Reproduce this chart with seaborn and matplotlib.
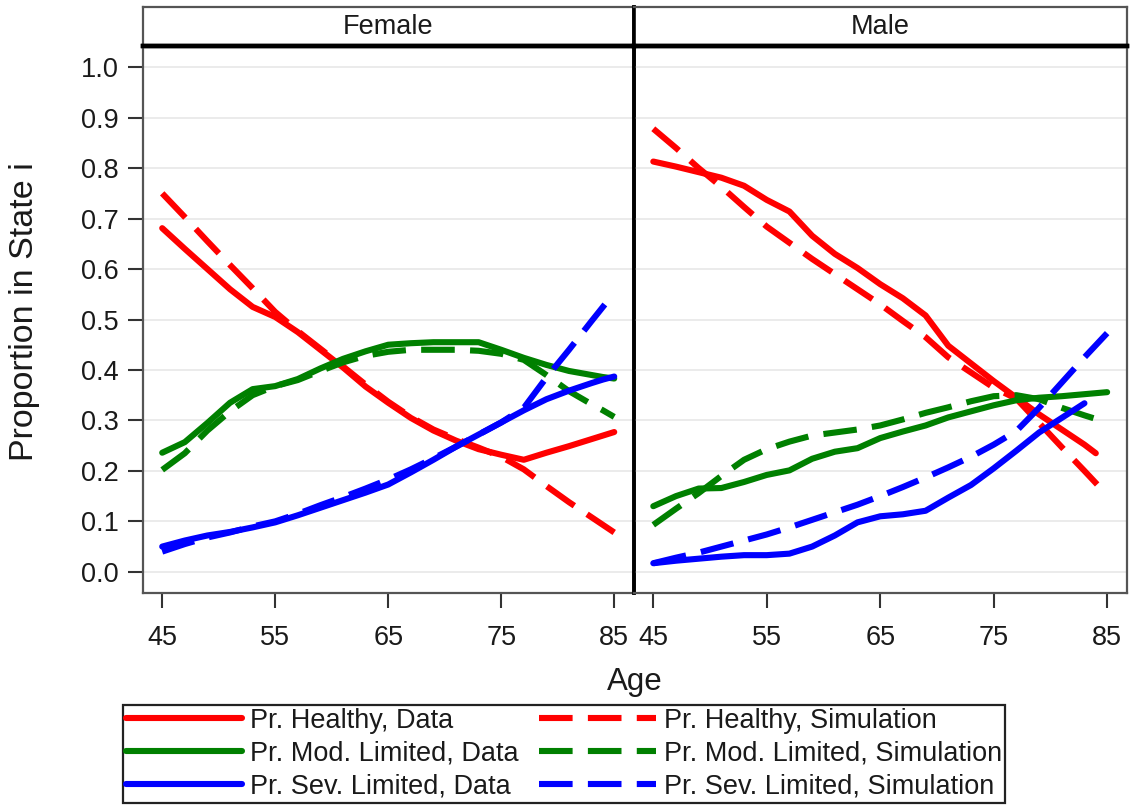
import numpy as np
import pandas as pd
import matplotlib
matplotlib.use("Agg")
import matplotlib.pyplot as plt
from matplotlib.lines import Line2D
import seaborn as sns

# ---- data -------------------------------------------------------------
AGES = [45, 47, 49, 51, 53, 55, 57, 59, 61, 63, 65, 67, 69, 71, 73, 75, 77, 79, 81, 83, 84, 85]
nan = np.nan

F_HEALTHY_DATA = [0.681, 0.640, 0.600, 0.560, 0.525, 0.505, 0.475, 0.440, 0.405, 0.367, 0.335,
                  0.305, 0.280, 0.260, 0.243, 0.232, 0.222, 0.236, 0.249, 0.263, 0.270, 0.277]
F_HEALTHY_SIM = [0.750, 0.703, 0.655, 0.608, 0.562, 0.515, 0.477, 0.442, 0.407, 0.371, 0.337,
                 0.307, 0.282, 0.263, 0.246, 0.228, 0.203, 0.170, 0.138, 0.108, 0.093, 0.078]
F_MOD_DATA = [0.236, 0.257, 0.295, 0.335, 0.362, 0.368, 0.382, 0.403, 0.422, 0.437, 0.450,
              0.453, 0.455, 0.455, 0.455, 0.440, 0.424, 0.410, 0.398, 0.390, 0.386, 0.383]
F_MOD_SIM = [0.202, 0.235, 0.280, 0.318, 0.350, 0.368, 0.380, 0.398, 0.415, 0.428, 0.436,
             0.440, 0.440, 0.440, 0.438, 0.432, 0.420, 0.390, 0.358, 0.332, 0.320, 0.307]
F_SEV_DATA = [0.050, 0.062, 0.072, 0.079, 0.088, 0.098, 0.112, 0.127, 0.142, 0.157, 0.173,
              0.197, 0.222, 0.248, 0.272, 0.296, 0.320, 0.342, 0.359, 0.374, 0.381, 0.387]
F_SEV_SIM = [0.040, 0.055, 0.068, 0.078, 0.090, 0.100, 0.115, 0.132, 0.148, 0.165, 0.183,
             0.203, 0.225, 0.248, 0.272, 0.296, 0.325, 0.385, 0.440, 0.497, 0.525, 0.553]

M_HEALTHY_DATA = [0.813, 0.803, 0.792, 0.781, 0.765, 0.737, 0.714, 0.666, 0.630, 0.602, 0.570,
                  0.542, 0.508, 0.448, 0.413, 0.378, 0.345, 0.312, 0.282, 0.252, 0.235, nan]
M_HEALTHY_SIM = [0.878, 0.840, 0.800, 0.763, 0.723, 0.684, 0.652, 0.620, 0.590, 0.560, 0.530,
                 0.497, 0.465, 0.425, 0.395, 0.365, 0.343, 0.295, 0.247, 0.200, 0.176, 0.152]
M_MOD_DATA = [0.130, 0.150, 0.165, 0.166, 0.178, 0.192, 0.201, 0.224, 0.238, 0.245, 0.265,
              0.278, 0.290, 0.306, 0.318, 0.330, 0.340, 0.345, 0.348, 0.352, 0.354, 0.356]
M_MOD_SIM = [0.093, 0.125, 0.156, 0.190, 0.222, 0.243, 0.258, 0.270, 0.276, 0.282, 0.290,
             0.302, 0.315, 0.326, 0.338, 0.348, 0.350, 0.342, 0.325, 0.310, 0.303, 0.297]
M_SEV_DATA = [0.017, 0.022, 0.026, 0.030, 0.033, 0.033, 0.036, 0.050, 0.072, 0.098, 0.110,
              0.114, 0.121, 0.147, 0.172, 0.205, 0.240, 0.276, 0.305, 0.334, nan, nan]
M_SEV_SIM = [0.017, 0.028, 0.038, 0.050, 0.062, 0.074, 0.088, 0.103, 0.118, 0.133, 0.150,
             0.168, 0.187, 0.207, 0.228, 0.252, 0.279, 0.325, 0.375, 0.425, 0.449, 0.473]

PANELS = ["Female", "Male"]
STATES = ["Pr. Healthy", "Pr. Mod. Limited", "Pr. Sev. Limited"]
SOURCES = ["Data", "Simulation"]
X_TICKS = [45, 55, 65, 75, 85]
Y_TICKS = [0.0, 0.1, 0.2, 0.3, 0.4, 0.5, 0.6, 0.7, 0.8, 0.9, 1.0]

SERIES = {
    ("Female", "Pr. Healthy", "Data"): F_HEALTHY_DATA,
    ("Female", "Pr. Healthy", "Simulation"): F_HEALTHY_SIM,
    ("Female", "Pr. Mod. Limited", "Data"): F_MOD_DATA,
    ("Female", "Pr. Mod. Limited", "Simulation"): F_MOD_SIM,
    ("Female", "Pr. Sev. Limited", "Data"): F_SEV_DATA,
    ("Female", "Pr. Sev. Limited", "Simulation"): F_SEV_SIM,
    ("Male", "Pr. Healthy", "Data"): M_HEALTHY_DATA,
    ("Male", "Pr. Healthy", "Simulation"): M_HEALTHY_SIM,
    ("Male", "Pr. Mod. Limited", "Data"): M_MOD_DATA,
    ("Male", "Pr. Mod. Limited", "Simulation"): M_MOD_SIM,
    ("Male", "Pr. Sev. Limited", "Data"): M_SEV_DATA,
    ("Male", "Pr. Sev. Limited", "Simulation"): M_SEV_SIM,
}

rows = []
for (sex, state, source), vals in SERIES.items():
    for age, v in zip(AGES, vals):
        rows.append({"Sex": sex, "State": state, "Source": source, "Age": age, "Proportion": v})
df = pd.DataFrame(rows).dropna()

# ---- style ------------------------------------------------------------
sns.set_theme(style="white")
plt.rcParams["font.family"] = ["Liberation Sans", "DejaVu Sans"]

COLORS = {"Pr. Healthy": "#ff0000", "Pr. Mod. Limited": "#008000", "Pr. Sev. Limited": "#0000ff"}
DASHES = {"Data": "", "Simulation": (5.5, 2.5)}
LW = 4.4
TICK_FS = 19.5
LABEL_FS = 22.5
TEXT_COLOR = "#1a1a1a"

W, H = 1133, 806
fig = plt.figure(figsize=(W / 100, H / 100), dpi=100)


def fx(px):
    return px / W


def fy(py):
    return 1 - py / H


left, mid, right = 143, 634, 1127
top, bottom, strip_top = 46, 593, 7

# facet header strips (drawn first so the panel frames sit on top)
for sex, (x0, x1) in zip(PANELS, [(left, mid), (mid, right)]):
    sax = fig.add_axes([fx(x0), fy(top), fx(x1 - x0), fy(strip_top) - fy(top)])
    sax.set_xticks([])
    sax.set_yticks([])
    sax.set_facecolor("white")
    for side in ["top", "left", "right"]:
        sax.spines[side].set_color("#555555")
        sax.spines[side].set_linewidth(1.6)
    sax.spines["bottom"].set_color("black")
    sax.spines["bottom"].set_linewidth(3.2)
    if sex == "Female":
        sax.spines["right"].set_color("black")
        sax.spines["right"].set_linewidth(2.6)
    else:
        sax.spines["left"].set_color("black")
        sax.spines["left"].set_linewidth(2.6)
    sax.text(0.5, 0.5, sex, ha="center", va="center", fontsize=TICK_FS, color=TEXT_COLOR,
             transform=sax.transAxes)

ax_f = fig.add_axes([fx(left), fy(bottom), fx(mid - left), fy(top) - fy(bottom)])
ax_m = fig.add_axes([fx(mid), fy(bottom), fx(right - mid), fy(top) - fy(bottom)])
axes = {"Female": ax_f, "Male": ax_m}

for sex, ax in axes.items():
    ax.patch.set_alpha(0)
    sub = df[df["Sex"] == sex]
    sns.lineplot(data=sub, x="Age", y="Proportion", hue="State", style="Source",
                 hue_order=STATES, style_order=SOURCES, palette=COLORS, dashes=DASHES,
                 linewidth=LW, estimator=None, errorbar=None, legend=False, ax=ax, zorder=3)
    for ln in ax.lines:
        ln.set_dash_capstyle("butt")
    ax.set_xlim(43.3, 86.75)
    ax.set_ylim(-0.042, 1.042)
    ax.set_xticks(X_TICKS)
    ax.set_yticks(Y_TICKS)
    ax.set_yticklabels([f"{t:.1f}" for t in Y_TICKS])
    ax.yaxis.grid(True, color="#e8e8e8", linewidth=1.2, zorder=0)
    ax.xaxis.grid(False)
    ax.set_axisbelow(True)
    ax.set_xlabel("")
    ax.set_ylabel("")
    ax.tick_params(axis="both", which="major", direction="out", length=10.5, width=1.5,
                   color="#333333", labelsize=TICK_FS, labelcolor=TEXT_COLOR)
    ax.tick_params(axis="x", pad=12.5, bottom=True)
    ax.tick_params(axis="y", pad=7, left=True)
    for side in ["left", "right", "bottom"]:
        ax.spines[side].set_color("#555555")
        ax.spines[side].set_linewidth(1.6)
    ax.spines["top"].set_color("black")
    ax.spines["top"].set_linewidth(3.2)

ax_m.tick_params(axis="y", left=False, labelleft=False)
ax_f.spines["right"].set_color("black")
ax_f.spines["right"].set_linewidth(2.6)
ax_m.spines["left"].set_color("black")
ax_m.spines["left"].set_linewidth(2.6)

# axis titles
fig.text(fx(25), fy(312), "Proportion in State i", rotation=90, ha="center", va="center",
         fontsize=24.5, color=TEXT_COLOR)
fig.text(fx((left + right) / 2), fy(690), "Age", ha="center", va="baseline",
         fontsize=LABEL_FS, color=TEXT_COLOR)

# legend
handles, labels = [], []
for source in SOURCES:
    for state in STATES:
        ls = "-" if source == "Data" else (0, DASHES[source])
        handles.append(Line2D([], [], color=COLORS[state], linewidth=LW, linestyle=ls,
                              dash_capstyle="butt"))
        labels.append(f"{state}, {source}")
leg = fig.legend(handles, labels, ncol=2, loc="upper left",
                 bbox_to_anchor=(fx(123), fy(705)), borderaxespad=0,
                 fontsize=TICK_FS, frameon=True, fancybox=False, framealpha=1,
                 edgecolor="#222222", handlelength=4.3, handletextpad=0.3,
                 columnspacing=0.75, labelspacing=0.26, borderpad=0.1)
leg.get_frame().set_linewidth(1.6)
for t in leg.get_texts():
    t.set_color(TEXT_COLOR)

fig.savefig("out.png", dpi=100, facecolor="white")
